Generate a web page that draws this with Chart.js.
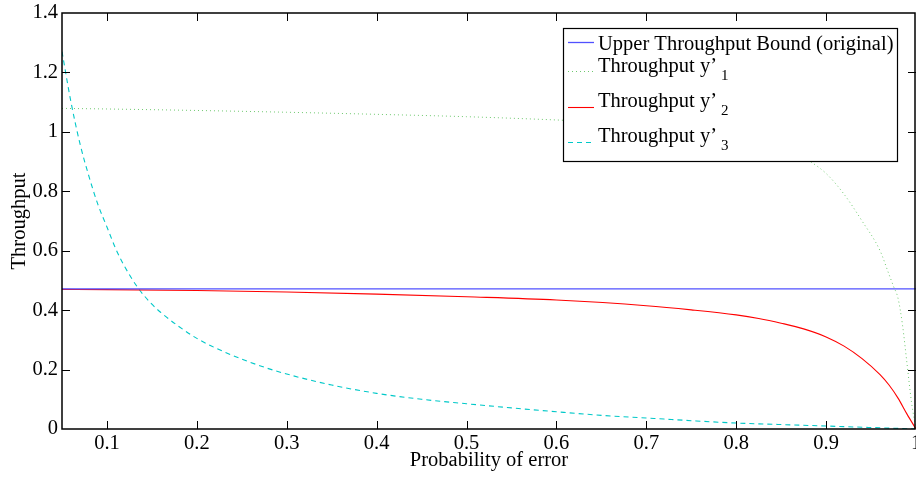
<!DOCTYPE html>
<html>
<head>
<meta charset="utf-8">
<script src="https://cdn.jsdelivr.net/npm/chart.js@4.4.0/dist/chart.umd.min.js"></script>
<style>
  body { margin: 0; background: #fff; }
  canvas { display: block; }
</style>
</head>
<body>
<canvas id="throughput_graph" width="916" height="477"></canvas>
<script>
// Values
var seriesLabels = ['Upper Throughput Bound (original)', 'Throughput y\u2019', 'Throughput y\u2019', 'Throughput y\u2019'];
var seriesSubs = ['', '1', '2', '3'];

var boundP = [0.05, 1.0];
var boundVals = [0.4714, 0.4714];

var y1P = [0.05, 0.1, 0.2, 0.3, 0.4, 0.5, 0.6, 0.65, 0.7, 0.75, 0.8, 0.85, 0.88, 0.9, 0.92, 0.94, 0.96, 0.97, 0.975, 0.98, 0.985, 0.99, 0.995, 1.0];
var y1Vals = [1.079, 1.077, 1.072, 1.066, 1.059, 1.051, 1.040, 1.033, 1.024, 1.012, 0.994, 0.960, 0.905, 0.86, 0.79, 0.70, 0.60, 0.52, 0.48, 0.44, 0.35, 0.22, 0.09, 0.0];

var y2P = [0.05, 0.1, 0.2, 0.3, 0.4, 0.5, 0.6, 0.7, 0.75, 0.8, 0.825, 0.85, 0.875, 0.9, 0.92, 0.94, 0.96, 0.97, 0.98, 0.99, 1.0];
var y2Vals = [0.470, 0.469, 0.466, 0.461, 0.454, 0.445, 0.434, 0.415, 0.401, 0.384, 0.372, 0.356, 0.337, 0.310, 0.279, 0.237, 0.183, 0.148, 0.104, 0.050, 0.0];

var y3P = [0.05, 0.06, 0.07, 0.08, 0.09, 0.1, 0.11, 0.12, 0.135, 0.15, 0.16, 0.18, 0.2, 0.23, 0.27, 0.3, 0.35, 0.4, 0.45, 0.5, 0.55, 0.6, 0.65, 0.7, 0.75, 0.8, 0.85, 0.9, 0.95, 1.0];
var y3Vals = [1.27, 1.10, 0.96, 0.85, 0.755, 0.68, 0.605, 0.545, 0.473, 0.42, 0.392, 0.345, 0.305, 0.26, 0.213, 0.185, 0.148, 0.12, 0.10, 0.085, 0.071, 0.058, 0.046, 0.037, 0.028, 0.02, 0.015, 0.01, 0.005, 0.0];

var xTicks = [0.1, 0.2, 0.3, 0.4, 0.5, 0.6, 0.7, 0.8, 0.9, 1];
var yTicks = [0, 0.2, 0.4, 0.6, 0.8, 1, 1.2, 1.4];

var boundColor = 'rgb(80,80,255)';
var y1Color = 'rgb(110,200,110)';
var y2Color = 'rgb(255,0,0)';
var y3Color = 'rgb(0,200,200)';

var serifFont = 'Liberation Serif';
var fontSize = 20.5;

function toPoints(xs, ys) {
    return xs.map(function (x, i) { return { x: x, y: ys[i] }; });
}

// MATLAB-style frame, inward ticks and boxed legend
var matlabFrame = {
    id: 'matlabFrame',
    afterDraw: function (chart) {
        var ctx = chart.ctx;
        var a = chart.chartArea;
        var xs = chart.scales.x;
        var ys = chart.scales.y;
        ctx.save();
        ctx.strokeStyle = '#000';
        ctx.lineWidth = 1;
        xTicks.forEach(function (v) {
            var px = Math.round(xs.getPixelForValue(v)) + 0.5;
            if (px >= a.right - 1) return;
            ctx.beginPath();
            ctx.moveTo(px, a.bottom); ctx.lineTo(px, a.bottom - 8);
            ctx.moveTo(px, a.top); ctx.lineTo(px, a.top + 8);
            ctx.stroke();
        });
        yTicks.forEach(function (v) {
            var py = Math.round(ys.getPixelForValue(v)) + 0.5;
            if (py <= a.top + 1 || py >= a.bottom - 1) return;
            ctx.beginPath();
            ctx.moveTo(a.left, py); ctx.lineTo(a.left + 8, py);
            ctx.moveTo(a.right, py); ctx.lineTo(a.right - 8, py);
            ctx.stroke();
        });
        ctx.lineWidth = 1.5;
        ctx.strokeRect(a.left, a.top, a.right - a.left - 1, a.bottom - a.top);

        // legend
        var lx = 563, ly = 28, lw = 334, lh = 133;
        ctx.fillStyle = '#fff';
        ctx.fillRect(lx, ly, lw, lh);
        ctx.lineWidth = 1.2;
        ctx.strokeRect(lx + 0.5, ly + 0.5, lw, lh);
        var lineYs = [42, 71, 107, 142];
        var baseYs = [50, 72, 107, 142];
        chart.data.datasets.forEach(function (ds, i) {
            ctx.strokeStyle = ds.borderColor;
            ctx.lineWidth = ds.borderWidth;
            ctx.setLineDash(ds.borderDash || []);
            ctx.beginPath();
            ctx.moveTo(568, lineYs[i] + 0.5);
            ctx.lineTo(594, lineYs[i] + 0.5);
            ctx.stroke();
            ctx.setLineDash([]);
            ctx.fillStyle = '#000';
            ctx.font = fontSize + 'px "' + serifFont + '"';
            ctx.textBaseline = 'alphabetic';
            ctx.textAlign = 'left';
            ctx.fillText(seriesLabels[i], 598, baseYs[i]);
            if (seriesSubs[i]) {
                var w = ctx.measureText(seriesLabels[i]).width;
                ctx.font = '15px "' + serifFont + '"';
                ctx.fillText(seriesSubs[i], 598 + w + 4, baseYs[i] + 8);
            }
        });
        ctx.restore();
    }
};

var canvas = document.getElementById('throughput_graph').getContext('2d');
var throughput_graph = new Chart(canvas, {
    type: 'line',
    data: {
        datasets: [{
            label: seriesLabels[0],
            data: toPoints(boundP, boundVals),
            borderColor: boundColor,
            borderWidth: 1.3,
            pointRadius: 0,
            fill: false
        },
        {
            label: seriesLabels[1] + seriesSubs[1],
            data: toPoints(y1P, y1Vals),
            borderColor: y1Color,
            borderWidth: 1,
            borderDash: [1, 3],
            pointRadius: 0,
            cubicInterpolationMode: 'monotone',
            fill: false
        },
        {
            label: seriesLabels[2] + seriesSubs[2],
            data: toPoints(y2P, y2Vals),
            borderColor: y2Color,
            borderWidth: 1.1,
            pointRadius: 0,
            cubicInterpolationMode: 'monotone',
            fill: false
        },
        {
            label: seriesLabels[3] + seriesSubs[3],
            data: toPoints(y3P, y3Vals),
            borderColor: y3Color,
            borderWidth: 1.1,
            borderDash: [5, 4],
            pointRadius: 0,
            cubicInterpolationMode: 'monotone',
            fill: false
        }]
    },
    options: {
        responsive: false,
        animation: false,
        layout: { padding: { top: 13, right: 0, left: 0, bottom: 0 } },
        plugins: {
            legend: { display: false },
            tooltip: { enabled: false }
        },
        scales: {
            x: {
                type: 'linear',
                min: 0.05,
                max: 1,
                afterBuildTicks: function (scale) {
                    scale.ticks = xTicks.map(function (v) { return { value: v }; });
                },
                afterFit: function (scale) {
                    scale.height = 48;
                    scale.paddingLeft = 0;
                    scale.paddingRight = 0;
                },
                grid: { display: false, drawTicks: false },
                border: { display: false },
                ticks: {
                    color: '#000',
                    padding: 2,
                    maxRotation: 0,
                    autoSkip: false,
                    font: { family: serifFont, size: fontSize },
                    callback: function (v) { return String(v); }
                },
                title: {
                    display: true,
                    text: 'Probability of error',
                    color: '#000',
                    padding: { top: 0, bottom: 4 },
                    font: { family: serifFont, size: fontSize }
                }
            },
            y: {
                min: 0,
                max: 1.4,
                afterBuildTicks: function (scale) {
                    scale.ticks = yTicks.map(function (v) { return { value: v }; });
                },
                afterFit: function (scale) {
                    scale.width = 62;
                    scale.paddingTop = 0;
                    scale.paddingBottom = 0;
                },
                grid: { display: false, drawTicks: false },
                border: { display: false },
                ticks: {
                    color: '#000',
                    padding: 4,
                    autoSkip: false,
                    font: { family: serifFont, size: fontSize },
                    callback: function (v) { return String(Math.round(v * 10) / 10); }
                },
                title: {
                    display: true,
                    text: 'Throughput',
                    color: '#000',
                    padding: { top: 7, bottom: 0 },
                    font: { family: serifFont, size: fontSize }
                }
            }
        }
    },
    plugins: [matlabFrame]
});
</script>
</body>
</html>
